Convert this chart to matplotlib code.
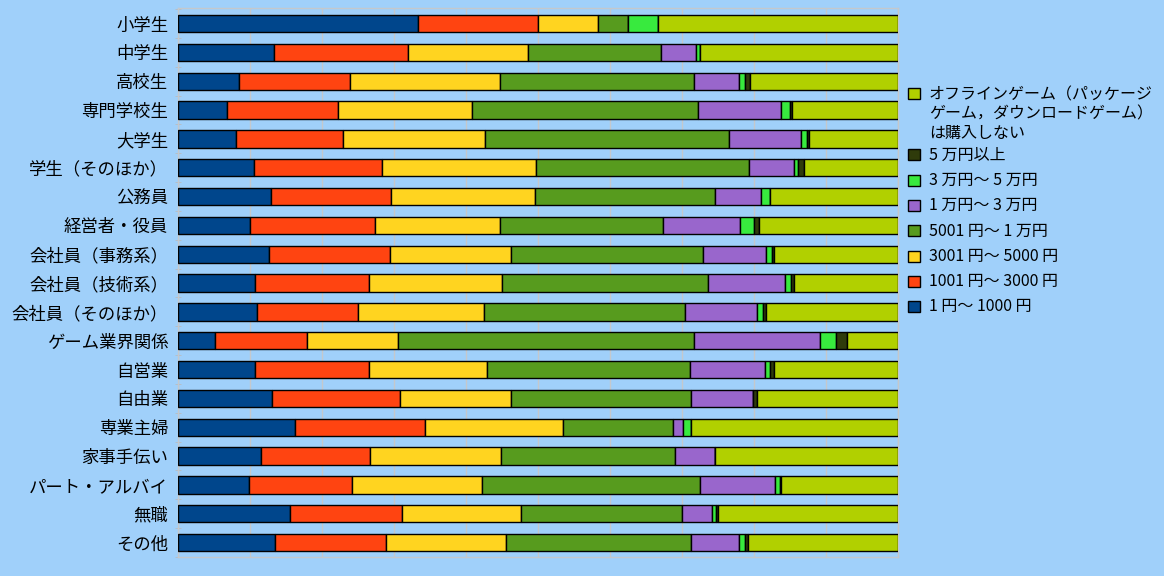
import numpy as np
import matplotlib
matplotlib.use("Agg")
import matplotlib.pyplot as plt
from matplotlib.patches import Rectangle

plt.rcParams['font.family'] = ['Noto Sans CJK JP', 'DejaVu Sans']

categories = ["小学生", "中学生", "高校生", "専門学校生", "大学生", "学生（そのほか）",
              "公務員", "経営者・役員", "会社員（事務系）", "会社員（技術系）",
              "会社員（そのほか）", "ゲーム業界関係", "自営業", "自由業", "専業主婦",
              "家事手伝い", "パート・アルバイ", "無職", "その他"]

series_names = ["1 円～ 1000 円", "1001 円～ 3000 円", "3001 円～ 5000 円",
                "5001 円～ 1 万円", "1 万円～ 3 万円", "3 万円～ 5 万円", "5 万円以上",
                "オフラインゲーム（パッケージ\nゲーム，ダウンロードゲーム）\nは購入しない"]

# percent per category, one list per series
yen_1_1000 = [33.3, 13.3, 8.5, 6.8, 8.1, 10.6, 12.9, 10.0, 12.6, 10.75,
              11.0, 5.1, 10.75, 13.0, 16.25, 11.5, 9.9, 15.55, 13.5]
yen_1001_3000 = [16.7, 18.6, 15.4, 15.4, 14.8, 17.7, 16.7, 17.4, 16.8, 15.8,
                 14.0, 12.8, 15.8, 17.9, 18.05, 15.1, 14.3, 15.55, 15.4]
yen_3001_5000 = [8.3, 16.7, 20.8, 18.6, 19.8, 21.4, 20.0, 17.3, 16.8, 18.5,
                 17.5, 12.7, 16.4, 15.4, 19.2, 18.2, 18.0, 16.5, 16.65]
yen_5001_1man = [4.2, 18.5, 27.0, 31.4, 33.8, 29.6, 25.0, 22.7, 26.7, 28.6,
                 27.9, 41.1, 28.2, 25.0, 15.3, 24.2, 30.3, 22.4, 25.7]
man_1_3 = [0.0, 4.9, 6.2, 11.5, 10.0, 6.3, 6.4, 10.7, 8.8, 10.7,
           10.0, 17.5, 10.4, 8.5, 1.4, 5.6, 10.4, 4.2, 6.65]
man_3_5 = [4.2, 0.5, 0.8, 1.35, 0.9, 0.5, 1.2, 1.9, 0.8, 0.8,
           0.8, 2.2, 0.7, 0.0, 1.0, 0.0, 0.7, 0.5, 0.85]
man_5_over = [0.0, 0.0, 0.8, 0.25, 0.3, 0.8, 0.0, 0.7, 0.3, 0.35,
              0.5, 1.5, 0.55, 0.55, 0.0, 0.0, 0.2, 0.35, 0.45]
no_purchase = [33.3, 27.5, 20.5, 14.7, 12.3, 13.1, 17.8, 19.3, 17.2, 14.5,
               18.3, 7.1, 17.2, 19.65, 28.8, 25.4, 16.2, 24.95, 20.8]

colors = ["#00468c", "#ff4411", "#ffd420", "#579b1e", "#9966cc",
          "#38ea3e", "#2f3b0b", "#b1d000"]
bg = "#a0d0fa"

data = [yen_1_1000, yen_1001_3000, yen_3001_5000, yen_5001_1man,
        man_1_3, man_3_5, man_5_over, no_purchase]

W, H = 1164, 576
fig = plt.figure(figsize=(W / 100, H / 100), dpi=100, facecolor=bg)
ax = fig.add_axes([178 / W, 1 - 557 / H, 720 / W, 549 / H])
ax.set_facecolor(bg)

y = np.arange(len(categories))
left = np.zeros(len(categories))
for vals, c in zip(data, colors):
    vals = np.array(vals)
    ax.barh(y, vals, left=left, height=0.6, color=c, edgecolor="black",
            linewidth=1.0, zorder=3)
    left += vals

ax.set_xlim(0, 100)
ax.set_ylim(18.47, -0.54)
ax.set_xticks(np.arange(0, 101, 10))
ax.set_xticklabels([])
ax.tick_params(axis="x", length=0)
ax.grid(axis="x", color="#c4c8cc", linewidth=1.0, zorder=0)
ax.set_yticks(y)
ax.set_yticklabels(categories, fontsize=12.5, color="black")
ax.tick_params(axis="y", length=0, pad=7)
ax.set_yticks(np.arange(-0.5, len(categories), 1.0), minor=True)
ax.tick_params(axis="y", which="minor", length=4, color="#b8bcc0", direction="inout")
for s in ax.spines.values():
    s.set_color("#c4c8cc")
    s.set_linewidth(1.0)

# legend, top entry first (reverse of stacking order)
fs = 11.5
sq_x, sq_w, sq_h = 908, 12, 11
tx = 929
entries = list(zip(series_names, colors))[::-1]
first_name, first_c = entries[0]
fig.patches.append(Rectangle((sq_x / W, 1 - 99 / H), sq_w / W, sq_h / H,
                             transform=fig.transFigure, facecolor=first_c,
                             edgecolor="black", linewidth=1.0))
fig.text(tx / W, 1 - 86 / H, first_name, fontsize=fs, va="top", ha="left",
         linespacing=1.2)
for k, (name, c) in enumerate(entries[1:]):
    cy = 155 + 25.3 * k
    fig.patches.append(Rectangle((sq_x / W, 1 - (cy + sq_h / 2) / H), sq_w / W, sq_h / H,
                                 transform=fig.transFigure, facecolor=c,
                                 edgecolor="black", linewidth=1.0))
    fig.text(tx / W, 1 - cy / H, name, fontsize=fs, va="center", ha="left")

fig.savefig("out.png", dpi=100, facecolor=bg)
